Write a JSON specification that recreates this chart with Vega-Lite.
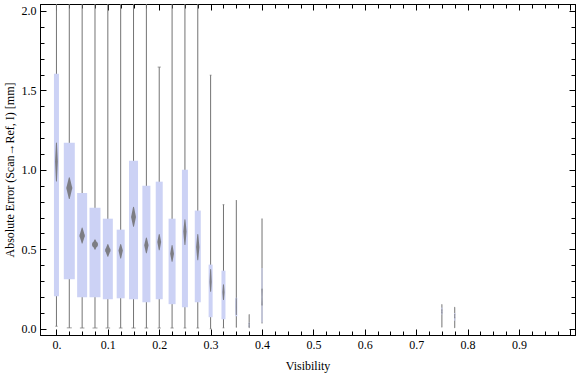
{
  "$schema": "https://vega.github.io/schema/vega-lite/v6.json",
  "width": 535,
  "height": 331,
  "autosize": {"type": "none"},
  "padding": {"left": 40, "top": 4, "right": 1, "bottom": 40},
  "background": "white",
  "data": {
    "values": [
      {"vis": 0.0, "lo": 0.016, "q1": 0.205, "q3": 1.605, "hi": 2.3, "dlo": 0.93, "dmid": 1.053, "dhi": 1.17, "n": 500},
      {"vis": 0.025, "lo": 0.006, "q1": 0.312, "q3": 1.171, "hi": 2.3, "dlo": 0.82, "dmid": 0.886, "dhi": 0.95, "n": 1100},
      {"vis": 0.05, "lo": 0.005, "q1": 0.199, "q3": 0.855, "hi": 2.3, "dlo": 0.54, "dmid": 0.586, "dhi": 0.635, "n": 1000},
      {"vis": 0.075, "lo": 0.005, "q1": 0.199, "q3": 0.762, "hi": 2.3, "dlo": 0.5, "dmid": 0.53, "dhi": 0.56, "n": 1100},
      {"vis": 0.1, "lo": 0.005, "q1": 0.186, "q3": 0.693, "hi": 2.3, "dlo": 0.456, "dmid": 0.494, "dhi": 0.53, "n": 1000},
      {"vis": 0.125, "lo": 0.005, "q1": 0.192, "q3": 0.624, "hi": 2.3, "dlo": 0.446, "dmid": 0.492, "dhi": 0.53, "n": 800},
      {"vis": 0.15, "lo": 0.005, "q1": 0.186, "q3": 1.058, "hi": 2.3, "dlo": 0.645, "dmid": 0.704, "dhi": 0.765, "n": 900},
      {"vis": 0.175, "lo": 0.005, "q1": 0.167, "q3": 0.901, "hi": 2.3, "dlo": 0.478, "dmid": 0.526, "dhi": 0.572, "n": 800},
      {"vis": 0.2, "lo": 0.005, "q1": 0.186, "q3": 0.926, "hi": 1.647, "dlo": 0.498, "dmid": 0.547, "dhi": 0.593, "n": 700},
      {"vis": 0.225, "lo": 0.005, "q1": 0.155, "q3": 0.693, "hi": 2.3, "dlo": 0.425, "dmid": 0.473, "dhi": 0.525, "n": 700},
      {"vis": 0.25, "lo": 0.005, "q1": 0.136, "q3": 1.001, "hi": 2.3, "dlo": 0.53, "dmid": 0.613, "dhi": 0.687, "n": 600},
      {"vis": 0.275, "lo": 0.005, "q1": 0.167, "q3": 0.744, "hi": 2.3, "dlo": 0.435, "dmid": 0.515, "dhi": 0.593, "n": 600},
      {"vis": 0.3, "lo": 0.0, "q1": 0.073, "q3": 0.404, "hi": 1.596, "dlo": 0.236, "dmid": 0.295, "dhi": 0.373, "n": 400},
      {"vis": 0.325, "lo": 0.006, "q1": 0.06, "q3": 0.366, "hi": 0.781, "dlo": 0.184, "dmid": 0.23, "dhi": 0.278, "n": 400},
      {"vis": 0.35, "lo": 0.01, "q1": 0.079, "q3": 0.195, "hi": 0.808, "dlo": 0.09, "dmid": 0.14, "dhi": 0.19, "n": 200},
      {"vis": 0.375, "lo": 0.006, "q1": 0.01, "q3": 0.04, "hi": 0.09, "dlo": 0.015, "dmid": 0.025, "dhi": 0.035, "n": 100},
      {"vis": 0.4, "lo": 0.035, "q1": 0.04, "q3": 0.383, "hi": 0.693, "dlo": 0.15, "dmid": 0.2, "dhi": 0.25, "n": 100},
      {"vis": 0.75, "lo": 0.01, "q1": 0.09, "q3": 0.134, "hi": 0.153, "dlo": 0.1, "dmid": 0.11, "dhi": 0.12, "n": 100},
      {"vis": 0.775, "lo": 0.006, "q1": 0.05, "q3": 0.1, "hi": 0.136, "dlo": 0.07, "dmid": 0.08, "dhi": 0.09, "n": 100}
    ]
  },
  "layer": [
    {
      "mark": {"type": "rule", "color": "#737373", "strokeWidth": 1, "clip": true},
      "encoding": {
        "x": {
          "field": "vis", "type": "quantitative",
          "scale": {"domain": [-0.032, 1.009], "nice": false, "zero": false, "padding": 0},
          "axis": {
            "orient": "bottom", "title": "Visibility", "titlePadding": 8,
            "labelFont": "Liberation Serif", "titleFont": "Liberation Serif",
            "values": [0,0.025,0.05,0.075,0.1,0.125,0.15,0.175,0.2,0.225,0.25,0.275,0.3,0.325,0.35,0.375,0.4,0.425,0.45,0.475,0.5,0.525,0.55,0.575,0.6,0.625,0.65,0.675,0.7,0.725,0.75,0.775,0.8,0.825,0.85,0.875,0.9,0.925,0.95,0.975,1.0],
            "labelExpr": "abs(datum.value*10 - round(datum.value*10)) < 0.001 && datum.value < 0.95 ? (datum.value == 0 ? '0.' : format(datum.value, '.1f')) : ''",
            "tickSize": {"condition": {"test": "abs(datum.value*10 - round(datum.value*10)) < 0.001", "value": -6}, "value": -4},
            "labelPadding": 10, "labelFlush": false, "labelOverlap": false
          }
        },
        "y": {
          "field": "lo", "type": "quantitative",
          "scale": {"domain": [-0.039, 2.044], "nice": false, "zero": false, "padding": 0},
          "axis": {
            "orient": "left", "title": "Absolute Error (Scan\u2192Ref, I) [mm]", "titlePadding": 5,
            "labelFont": "Liberation Serif", "titleFont": "Liberation Serif",
            "values": [0,0.1,0.2,0.3,0.4,0.5,0.6,0.7,0.8,0.9,1.0,1.1,1.2,1.3,1.4,1.5,1.6,1.7,1.8,1.9,2.0],
            "labelExpr": "abs(datum.value*2 - round(datum.value*2)) < 0.001 ? format(datum.value, '.1f') : ''",
            "tickSize": {"condition": {"test": "abs(datum.value*2 - round(datum.value*2)) < 0.001", "value": -6}, "value": -4},
            "labelPadding": 10, "labelFlush": false, "labelOverlap": false
          }
        },
        "y2": {"field": "hi"}
      }
    },
    {
      "mark": {"type": "bar", "color": "#ccd2f5", "clip": true},
      "encoding": {
        "x": {
          "field": "vis", "type": "quantitative",
          "axis": {
            "orient": "top", "title": null, "labels": false,
            "values": [0,0.025,0.05,0.075,0.1,0.125,0.15,0.175,0.2,0.225,0.25,0.275,0.3,0.325,0.35,0.375,0.4,0.425,0.45,0.475,0.5,0.525,0.55,0.575,0.6,0.625,0.65,0.675,0.7,0.725,0.75,0.775,0.8,0.825,0.85,0.875,0.9,0.925,0.95,0.975,1.0],
            "tickSize": {"condition": {"test": "abs(datum.value*10 - round(datum.value*10)) < 0.001", "value": -6}, "value": -4}
          }
        },
        "y": {
          "field": "q1", "type": "quantitative",
          "axis": {
            "orient": "right", "title": null, "labels": false,
            "values": [0,0.1,0.2,0.3,0.4,0.5,0.6,0.7,0.8,0.9,1.0,1.1,1.2,1.3,1.4,1.5,1.6,1.7,1.8,1.9,2.0],
            "tickSize": {"condition": {"test": "abs(datum.value*2 - round(datum.value*2)) < 0.001", "value": -6}, "value": -4}
          }
        },
        "y2": {"field": "q3"},
        "size": {"field": "n", "type": "quantitative", "scale": {"domain": [0, 1100], "range": [0, 11]}, "legend": null}
      }
    },
    {
      "transform": [{"fold": ["dlo", "dmid", "dhi"], "as": ["part", "val"]}],
      "mark": {"type": "trail", "color": "#6f6f6f", "opacity": 0.85, "clip": true},
      "encoding": {
        "x": {"field": "vis", "type": "quantitative", "axis": null},
        "y": {"field": "val", "type": "quantitative", "axis": null},
        "detail": {"field": "vis", "type": "nominal"},
        "order": {"field": "val", "type": "quantitative"},
        "size": {
          "condition": {"test": "datum.part !== 'dmid'", "value": 0},
          "field": "n", "type": "quantitative",
          "scale": {"domain": [0, 1100], "range": [0, 6]}, "legend": null
        }
      }
    },
    {
      "mark": {"type": "tick", "orient": "horizontal", "color": "#737373", "thickness": 1, "clip": true},
      "encoding": {
        "x": {"field": "vis", "type": "quantitative", "axis": null},
        "y": {"field": "lo", "type": "quantitative", "axis": null},
        "size": {"field": "n", "type": "quantitative", "scale": {"domain": [0, 1100], "range": [0, 5]}, "legend": null}
      }
    },
    {
      "mark": {"type": "tick", "orient": "horizontal", "color": "#737373", "thickness": 1, "clip": true},
      "encoding": {
        "x": {"field": "vis", "type": "quantitative", "axis": null},
        "y": {"field": "hi", "type": "quantitative", "axis": null},
        "size": {"field": "n", "type": "quantitative", "scale": {"domain": [0, 1100], "range": [0, 5]}, "legend": null}
      }
    }
  ],
  "resolve": {
    "scale": {"size": "independent"},
    "axis": {"x": "independent", "y": "independent"}
  },
  "config": {
    "font": "Liberation Serif",
    "view": {"stroke": "#000", "strokeWidth": 1},
    "axis": {
      "labelFont": "Liberation Serif", "titleFont": "Liberation Serif",
      "labelFontSize": 12, "titleFontSize": 12, "titleFontWeight": "normal",
      "labelColor": "#000", "titleColor": "#000",
      "domainColor": "#000", "tickColor": "#000", "grid": false,
      "domainWidth": 1, "tickWidth": 1
    }
  }
}
